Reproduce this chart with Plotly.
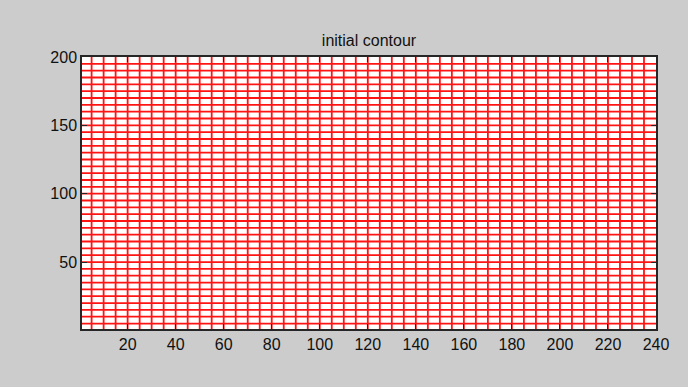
import plotly.graph_objects as go

# Contour line positions (zero level set of the initial checkerboard function)
x_lines = [5, 10, 15, 20, 25, 30, 35, 40, 45, 50, 55, 60, 65, 70, 75, 80, 85, 90,
           95, 100, 105, 110, 115, 120, 125, 130, 135, 140, 145, 150, 155, 160,
           165, 170, 175, 180, 185, 190, 195, 200, 205, 210, 215, 220, 225, 230, 235]
y_lines = [5, 10, 15, 20, 25, 30, 35, 40, 45, 50, 55, 60, 65, 70, 75, 80, 85, 90,
           95, 100, 105, 110, 115, 120, 125, 130, 135, 140, 145, 150, 155, 160,
           165, 170, 175, 180, 185, 190, 195]
x_range = [1, 240]
y_range = [1, 200]
x_ticks = [20, 40, 60, 80, 100, 120, 140, 160, 180, 200, 220, 240]
y_ticks = [50, 100, 150, 200]
title_text = "initial contour"

vx, vy = [], []
for x in x_lines:
    vx += [x, x, None]
    vy += [y_range[0], y_range[1], None]
hx, hy = [], []
for y in y_lines:
    hx += [x_range[0], x_range[1], None]
    hy += [y, y, None]

fig = go.Figure()
line_style = dict(color="rgb(255,20,20)", width=1.8)
fig.add_trace(go.Scatter(x=vx, y=vy, mode="lines", line=line_style,
                         hoverinfo="skip", showlegend=False))
fig.add_trace(go.Scatter(x=hx, y=hy, mode="lines", line=line_style,
                         hoverinfo="skip", showlegend=False))

axis_common = dict(
    showgrid=False, zeroline=False, showline=True, linecolor="#262626",
    linewidth=1.5, mirror="allticks", ticks="inside", ticklen=5,
    tickcolor="#262626", tickwidth=1,
    tickfont=dict(family="Liberation Sans, Arial, sans-serif", size=16,
                  color="#111111"),
)

fig.update_layout(
    width=688, height=387,
    paper_bgcolor="#cccccc", plot_bgcolor="white",
    margin=dict(l=82, r=32, t=57, b=58),
    title=dict(text=title_text, x=0.5, xref="paper", xanchor="center",
               y=1 - 40 / 387, yref="container", yanchor="middle",
               font=dict(family="Liberation Sans, Arial, sans-serif", size=16,
                         color="#111111")),
    xaxis=dict(range=x_range, tickvals=x_ticks, **axis_common),
    yaxis=dict(range=y_range, tickvals=y_ticks, **axis_common),
)

fig.write_html(
    "out.html",
    config={"displayModeBar": False},
    post_script="document.body.style.margin='0';document.body.style.background='#cccccc';",
)
